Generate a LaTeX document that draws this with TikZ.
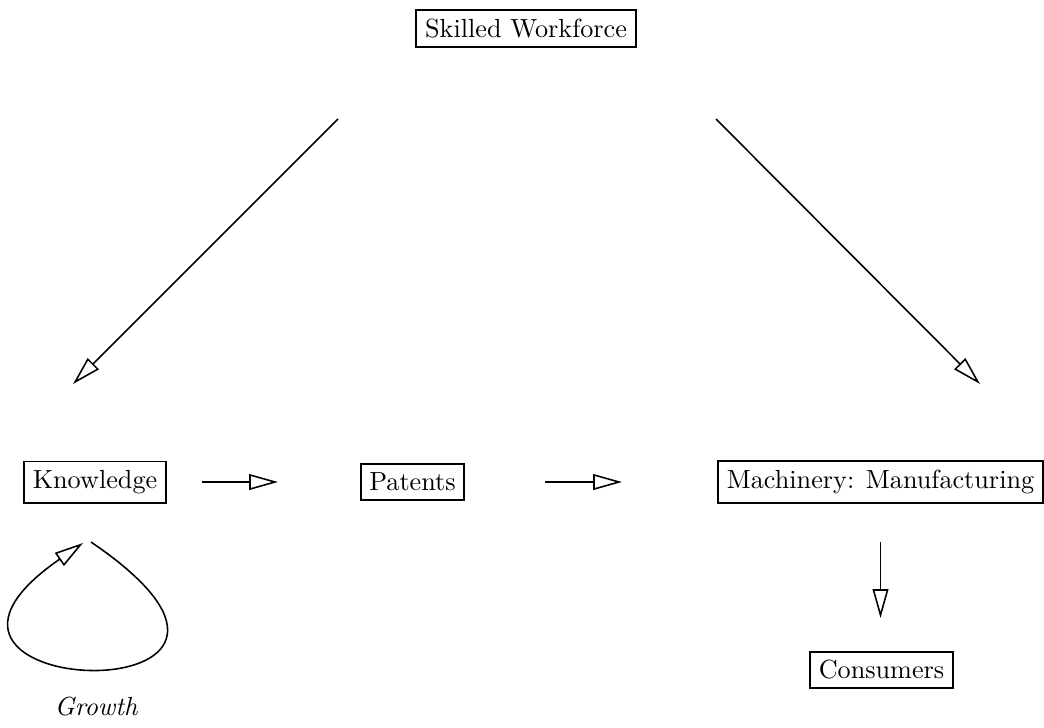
\documentclass[tikz,border=0pt]{standalone}
\usetikzlibrary{arrows.meta}
\begin{document}
\begin{tikzpicture}[x=0.3817pt,y=-0.3817pt,
  box/.style={draw,line width=0.75pt,inner sep=3.33pt},
  arr/.style={line width=0.6pt,-{Triangle[open,length=11pt,width=6pt,line width=0.6pt]}}]
\useasboundingbox (0,0) rectangle (1044,727);
\node[box] (sw) at (526,28.5) {Skilled Workforce};
\node[box] (kn) at (95,482) {Knowledge};
\node[box] (pa) at (412.5,482) {Patents};
\node[box] (ma) at (880.5,482) {Machinery: Manufacturing};
\node[box] (co) at (881.5,670) {Consumers};
\node[font=\itshape] (gr) at (96,707) {Growth};
% arrow end points
\coordinate (swl) at (338,119);
\coordinate (knt) at (73,384);
\coordinate (swr) at (716,119);
\coordinate (mat) at (980,384);
\coordinate (kns) at (202,482);
\coordinate (pat) at (278,482);
\coordinate (pas) at (545,482);
\coordinate (mae) at (622,482);
\coordinate (mas) at (880.5,542);
\coordinate (cot) at (880.5,618);
\coordinate (ls) at (91,542);
\coordinate (le) at (83,543);
\draw[arr] (swl) -- (knt);
\draw[arr] (swr) -- (mat);
\draw[arr] (kns) -- (pat);
\draw[arr] (pas) -- (mae);
\draw[arr] (mas) -- (cot);
\draw[arr] (ls) .. controls (350,718) and (-148,703) .. (le);
\end{tikzpicture}
\end{document}
